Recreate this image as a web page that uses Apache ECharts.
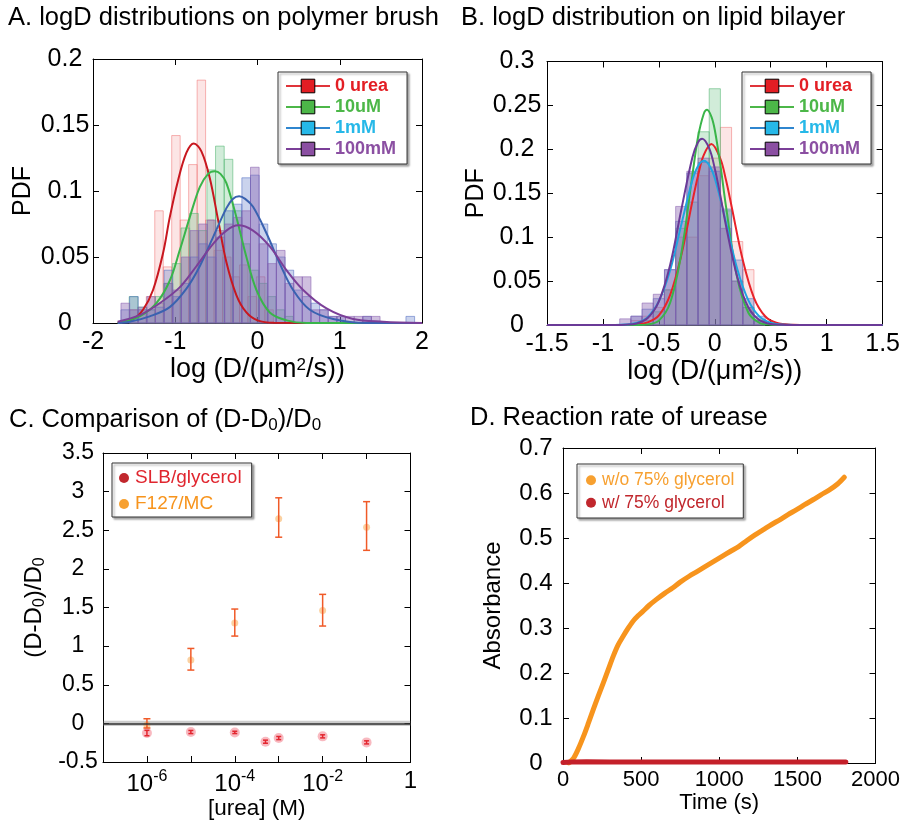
<!DOCTYPE html>
<html>
<head>
<meta charset="utf-8">
<script src="https://cdn.jsdelivr.net/npm/echarts@6/dist/echarts.min.js"></script>
<style>
html,body{margin:0;padding:0;background:#fff}
#chart{width:903px;height:825px}
</style>
</head>
<body>
<div id="chart"></div>
<script>
// ---------- Panel A: logD histograms on polymer brush ----------
// each histogram: first bin left edge, bin width, PDF heights
const histA_red_start = -1.558, histA_red_width = 0.103;
const histA_red = [0.01, 0.01, 0.02, 0.085, 0.0425, 0.142, 0.078, 0.120, 0.184, 0.078, 0.055, 0.05, 0.035, 0.044, 0.02, 0.035, 0.01];
const histA_green_start = -1.56, histA_green_width = 0.105;
const histA_green = [0.02, 0.012, 0.01, 0.02, 0.03, 0.045, 0.072, 0.083, 0.07, 0.116, 0.134, 0.124, 0.085, 0.06, 0.04, 0.03, 0.02, 0.01, 0.005];
const histA_blue_start = -1.66, histA_blue_width = 0.105;
const histA_blue = [0.01, 0.02, 0.01, 0.01, 0.012, 0.04, 0.02, 0.03, 0.05, 0.06, 0.05, 0.065, 0.085, 0.09, 0.11, 0.112, 0.075, 0.06, 0.05, 0.04, 0.025, 0.02, 0.015, 0.01, 0.005, 0.005, 0, 0, 0.005, 0, 0, 0, 0, 0.005];
const histA_purple_start = -1.66, histA_purple_width = 0.105;
const histA_purple = [0.015, 0.01, 0.012, 0.02, 0.015, 0.03, 0.025, 0.05, 0.07, 0.075, 0.078, 0.07, 0.075, 0.08, 0.085, 0.118, 0.06, 0.045, 0.055, 0.03, 0.035, 0.035, 0.01, 0.01, 0.005, 0.005, 0.005, 0.005, 0.005, 0.005];

// fitted curves, [logD, PDF]
const fitA_red = [[-1.7,0.0004],[-1.513,0.003],[-1.392,0.010],[-1.27,0.025],[-1.148,0.053],[-1.067,0.080],[-0.966,0.108],[-0.864,0.129],[-0.775,0.136],[-0.682,0.130],[-0.581,0.110],[-0.479,0.078],[-0.378,0.046],[-0.256,0.021],[-0.135,0.008],[0.0,0.002],[0.2,0.0002],[2,0]];
const fitA_green = [[-1.7,0],[-1.432,0.005],[-1.23,0.015],[-1.067,0.032],[-0.946,0.055],[-0.824,0.080],[-0.702,0.103],[-0.6,0.113],[-0.52,0.115],[-0.45,0.113],[-0.378,0.106],[-0.256,0.080],[-0.135,0.050],[-0.013,0.025],[0.149,0.008],[0.352,0.002],[0.595,0],[2,0]];
const fitA_blue = [[-1.7,0],[-1.554,0.001],[-1.311,0.005],[-1.067,0.012],[-0.864,0.026],[-0.702,0.043],[-0.54,0.065],[-0.378,0.087],[-0.3,0.094],[-0.224,0.096],[-0.15,0.094],[-0.054,0.088],[0.109,0.068],[0.271,0.045],[0.433,0.025],[0.636,0.010],[0.92,0.003],[1.324,0],[2,0]];
const fitA_purple = [[-1.7,0.001],[-1.432,0.006],[-1.189,0.015],[-0.946,0.027],[-0.743,0.043],[-0.54,0.060],[-0.378,0.070],[-0.236,0.074],[-0.054,0.070],[0.149,0.058],[0.352,0.040],[0.555,0.025],[0.839,0.011],[1.163,0.003],[1.527,0.001],[2,0]];

// ---------- Panel B: logD histograms on lipid bilayer ----------
const histB_width = 0.1;
const histB_red_start = -0.75;
const histB_red = [0.005, 0.01, 0.02, 0.04, 0.10, 0.10, 0.17, 0.19, 0.225, 0.095, 0.063, 0.006];
const histB_green_start = -0.65;
const histB_green = [0.005, 0.015, 0.04, 0.11, 0.14, 0.22, 0.269, 0.13, 0.05, 0.02, 0.005];
const histB_blue_start = -0.75;
const histB_blue = [0.01, 0.018, 0.03, 0.063, 0.118, 0.173, 0.185, 0.175, 0.132, 0.074, 0.03, 0.01];
const histB_purple_start = -0.85;
const histB_purple = [0.007, 0.01, 0.025, 0.035, 0.063, 0.135, 0.175, 0.19, 0.18, 0.11, 0.05, 0.02, 0.005];

const fitB_red = [[-1.5,0],[-0.8,0],[-0.7,0.0006],[-0.6,0.003],[-0.5,0.011],[-0.4,0.034],[-0.3,0.079],[-0.2,0.141],[-0.15,0.170],[-0.1,0.193],[-0.03,0.206],[0.05,0.189],[0.1,0.165],[0.15,0.135],[0.25,0.074],[0.35,0.031],[0.45,0.010],[0.55,0.0025],[0.7,0.0003],[0.85,0],[1.5,0]];
const fitB_green = [[-1.5,0],[-0.7,0],[-0.6,0.0007],[-0.5,0.005],[-0.4,0.025],[-0.3,0.081],[-0.2,0.171],[-0.15,0.214],[-0.1,0.240],[-0.069,0.245],[-0.03,0.237],[0,0.222],[0.05,0.182],[0.1,0.135],[0.2,0.054],[0.3,0.014],[0.4,0.0025],[0.5,0.0003],[0.6,0],[1.5,0]];
const fitB_blue = [[-1.5,0],[-0.9,0.0001],[-0.8,0.0005],[-0.7,0.0024],[-0.6,0.009],[-0.5,0.027],[-0.4,0.062],[-0.3,0.114],[-0.2,0.165],[-0.15,0.181],[-0.098,0.187],[-0.05,0.182],[0,0.167],[0.1,0.117],[0.2,0.064],[0.3,0.028],[0.4,0.0095],[0.5,0.0025],[0.6,0.0005],[0.7,0.0001],[0.8,0],[1.5,0]];
const fitB_purple = [[-1.5,0],[-0.9,0],[-0.8,0.0003],[-0.7,0.0018],[-0.6,0.008],[-0.5,0.027],[-0.4,0.068],[-0.3,0.131],[-0.2,0.191],[-0.15,0.208],[-0.113,0.212],[-0.05,0.201],[0,0.178],[0.05,0.147],[0.1,0.113],[0.2,0.055],[0.3,0.020],[0.4,0.0056],[0.5,0.0012],[0.6,0.0002],[0.7,0],[1.5,0]];

const legendNames = ['0 urea', '10uM', '1mM', '100mM'];

// ---------- Panel C: (D-D0)/D0 vs urea concentration ----------
const ureaF127 = [1e-6, 1e-5, 1e-4, 1e-3, 1e-2, 1e-1];
const relF127 = [-0.02, 0.82, 1.30, 2.65, 1.46, 2.54];
const relF127Lo = [-0.06, 0.69, 1.13, 2.41, 1.26, 2.24];
const relF127Hi = [0.06, 0.97, 1.48, 2.92, 1.67, 2.87];
const ureaSLB = [1e-6, 1e-5, 1e-4, 5e-4, 1e-3, 1e-2, 1e-1];
const relSLB = [-0.125, -0.112, -0.117, -0.237, -0.19, -0.168, -0.246];
const relSLBErr = [0.035, 0.02, 0.015, 0.02, 0.02, 0.02, 0.02];

// ---------- Panel D: urease reaction (absorbance vs time) ----------
const timeFree = [36, 68, 100, 131, 163, 194, 226, 258, 290, 321, 352, 384, 416, 448, 480, 511, 550, 596, 650, 701, 750, 807, 860, 912, 965, 1018, 1070, 1124, 1175, 1229, 1280, 1335, 1390, 1440, 1495, 1546, 1600, 1651, 1705, 1757, 1800];
const absFree = [0, 0.011, 0.033, 0.059, 0.089, 0.119, 0.149, 0.178, 0.208, 0.237, 0.262, 0.281, 0.299, 0.315, 0.327, 0.337, 0.350, 0.363, 0.377, 0.389, 0.402, 0.415, 0.426, 0.437, 0.448, 0.459, 0.470, 0.481, 0.494, 0.507, 0.518, 0.530, 0.541, 0.552, 0.563, 0.574, 0.585, 0.596, 0.607, 0.620, 0.635];
const timeGly = [0, 60, 150, 300, 500, 700, 900, 1100, 1300, 1500, 1700, 1810];
const absGly = [0.001, 0.002, 0.003, 0.002, 0.002, 0.002, 0.002, 0.002, 0.002, 0.002, 0.002, 0.002];

// ---------- styling ----------
const FONT = 'Liberation Sans, Arial, Helvetica, sans-serif';
const grids = [
  {left: 93, top: 59, width: 329, height: 264},
  {left: 547, top: 61.5, width: 336.5, height: 263.5},
  {left: 103, top: 453, width: 307.5, height: 309},
  {left: 563, top: 448, width: 315.5, height: 315}
];

function axisBase(extra) {
  return Object.assign({
    axisLine: {onZero: false, lineStyle: {color: '#000', width: 1}},
    axisTick: {inside: true, length: 6, lineStyle: {color: '#000'}},
    splitLine: {show: false},
    minorTick: {show: false}
  }, extra);
}
function tickLabel(size, extra) {
  return Object.assign({fontSize: size, fontFamily: FONT, color: '#000'}, extra);
}
function nameStyle(size) {
  return {fontSize: size, fontFamily: FONT, color: '#000',
    rich: {s: {fontSize: Math.round(size * 0.62), fontFamily: FONT, padding: [0, 0, 8, 0]},
           sub: {fontSize: 16, fontFamily: FONT, padding: [12, 0, 0, 0]}}};
}

const xAxes = [];
const yAxes = [];
function addAxes(gi, xo, yo, cfg) {
  xAxes.push(axisBase(Object.assign({gridIndex: gi, position: 'bottom',
    name: cfg.xName, nameLocation: 'middle', nameGap: cfg.xGap, nameTextStyle: nameStyle(cfg.xNameSize),
    axisLabel: tickLabel(cfg.xTickSize, Object.assign({margin: 7}, cfg.xLabel || {}))}, xo)));
  xAxes.push(axisBase(Object.assign({gridIndex: gi, position: 'top', axisLabel: {show: false}}, xo)));
  yAxes.push(axisBase(Object.assign({gridIndex: gi, position: 'left',
    name: cfg.yName, nameLocation: 'middle', nameGap: cfg.yGap, nameTextStyle: nameStyle(cfg.yNameSize),
    axisLabel: tickLabel(cfg.yTickSize, {align: 'center', margin: cfg.yMargin})}, yo)));
  yAxes.push(axisBase(Object.assign({gridIndex: gi, position: 'right', axisLabel: {show: false}}, yo)));
}
addAxes(0, {type: 'value', min: -2, max: 2, interval: 1}, {type: 'value', min: 0, max: 0.2, interval: 0.05},
  {xName: 'log (D/(μm{s|2}/s))', xGap: 31, xNameSize: 27, xTickSize: 25,
   yName: 'PDF', yGap: 57, yNameSize: 25, yTickSize: 25, yMargin: 28});
addAxes(1, {type: 'value', min: -1.5, max: 1.5, interval: 0.5}, {type: 'value', min: 0, max: 0.3, interval: 0.05},
  {xName: 'log (D/(μm{s|2}/s))', xGap: 31, xNameSize: 27, xTickSize: 25,
   yName: 'PDF', yGap: 48, yNameSize: 25, yTickSize: 25, yMargin: 30});
addAxes(2, {type: 'log', logBase: 10, min: 1e-7, max: 1, splitNumber: 7}, {type: 'value', min: -0.5, max: 3.5, interval: 0.5},
  {xName: '[urea] (M)', xGap: 28, xNameSize: 22.5, xTickSize: 24,
   xLabel: {formatter: function (v) {
     const e = Math.round(Math.log10(v));
     if (e === 0) return '1';
     if (e % 2 !== 0) return '';
     return '10{sup|' + e + '}';
   }, rich: {sup: {fontSize: 16, fontFamily: FONT, padding: [0, 0, 14, 0]}}},
   yName: '(D-D{sub|0})/D{sub|0}', yGap: 55, yNameSize: 24, yTickSize: 23, yMargin: 25});
addAxes(3, {type: 'value', min: 0, max: 2000, interval: 500}, {type: 'value', min: 0, max: 0.7, interval: 0.1},
  {xName: 'Time (s)', xGap: 29, xNameSize: 22, xTickSize: 22,
   xLabel: {margin: 6, formatter: function (v) { return String(v); }},
   yName: 'Absorbance', yGap: 58, yNameSize: 24, yTickSize: 24, yMargin: 27});

// histogram bins as rectangles on the value axes
function histSeries(name, ax, start, width, heights, fill, stroke) {
  const data = [];
  heights.forEach(function (h, i) {
    if (h > 0) data.push([start + i * width, start + (i + 1) * width, h]);
  });
  return {
    type: 'custom', name: name, xAxisIndex: ax, yAxisIndex: ax, data: data, silent: true, z: 1,
    encode: {x: [0, 1], y: 2},
    renderItem: function (params, api) {
      const a = api.coord([api.value(0), api.value(2)]);
      const b = api.coord([api.value(1), 0]);
      return {type: 'rect', shape: {x: a[0], y: a[1], width: b[0] - a[0], height: b[1] - a[1]},
        style: {fill: fill, stroke: stroke, lineWidth: 1}};
    }
  };
}
function fitSeries(name, ax, data, color) {
  return {type: 'line', name: name, xAxisIndex: ax, yAxisIndex: ax, data: data,
    smooth: 0.35, symbol: 'rect', showSymbol: false, silent: true, z: 3,
    lineStyle: {color: color, width: 2}, itemStyle: {color: color}};
}
function errSeries(name, xs, lo, hi, color, cap) {
  return {
    type: 'custom', name: name, xAxisIndex: 4, yAxisIndex: 4, silent: true, z: 4,
    data: xs.map(function (x, i) { return [x, lo[i], hi[i]]; }),
    encode: {x: 0, y: [1, 2]},
    renderItem: function (params, api) {
      const t = api.coord([api.value(0), api.value(2)]);
      const b = api.coord([api.value(0), api.value(1)]);
      const st = {stroke: color, lineWidth: 1.5};
      return {type: 'group', children: [
        {type: 'line', shape: {x1: t[0], y1: t[1], x2: b[0], y2: b[1]}, style: st},
        {type: 'line', shape: {x1: t[0] - cap, y1: t[1], x2: t[0] + cap, y2: t[1]}, style: st},
        {type: 'line', shape: {x1: b[0] - cap, y1: b[1], x2: b[0] + cap, y2: b[1]}, style: st}
      ]};
    }
  };
}

const histFill = {
  red: ['rgba(240,110,110,0.18)', 'rgba(240,120,120,0.55)'],
  green: ['rgba(90,185,120,0.28)', 'rgba(90,185,120,0.6)'],
  blue: ['rgba(80,110,195,0.30)', 'rgba(80,110,195,0.55)'],
  purple: ['rgba(135,95,175,0.40)', 'rgba(135,95,175,0.55)']
};

const series = [
  histSeries('hA0', 0, histA_red_start, histA_red_width, histA_red, histFill.red[0], histFill.red[1]),
  histSeries('hA1', 0, histA_green_start, histA_green_width, histA_green, histFill.green[0], histFill.green[1]),
  histSeries('hA2', 0, histA_blue_start, histA_blue_width, histA_blue, histFill.blue[0], histFill.blue[1]),
  histSeries('hA3', 0, histA_purple_start, histA_purple_width, histA_purple, histFill.purple[0], histFill.purple[1]),
  fitSeries(legendNames[0], 0, fitA_red, '#c8171f'),
  fitSeries(legendNames[1], 0, fitA_green, '#39b54a'),
  fitSeries(legendNames[2], 0, fitA_blue, '#3a62b0'),
  fitSeries(legendNames[3], 0, fitA_purple, '#7b3f98'),

  histSeries('hB0', 2, histB_red_start, histB_width, histB_red, histFill.red[0], histFill.red[1]),
  histSeries('hB1', 2, histB_green_start, histB_width, histB_green, histFill.green[0], histFill.green[1]),
  histSeries('hB2', 2, histB_blue_start, histB_width, histB_blue, histFill.blue[0], histFill.blue[1]),
  histSeries('hB3', 2, histB_purple_start, histB_width, histB_purple, histFill.purple[0], histFill.purple[1]),
  fitSeries(legendNames[0], 2, fitB_red, '#e8232a'),
  fitSeries(legendNames[1], 2, fitB_green, '#3ab54a'),
  fitSeries(legendNames[2], 2, fitB_blue, '#1fa5e0'),
  fitSeries(legendNames[3], 2, fitB_purple, '#6a3a97'),

  {
    type: 'scatter', name: 'SLB/glycerol', xAxisIndex: 4, yAxisIndex: 4, z: 3,
    data: ureaSLB.map(function (x, i) { return [x, relSLB[i]]; }),
    symbol: 'circle', symbolSize: 10, itemStyle: {color: 'rgba(236,60,80,0.45)'},
    markArea: {silent: true, itemStyle: {color: 'rgba(110,110,110,0.35)'},
      data: [[{yAxis: -0.035}, {yAxis: 0.035}]]},
    markLine: {silent: true, symbol: 'none', label: {show: false},
      lineStyle: {color: '#333', width: 1.5, type: 'solid'}, data: [{yAxis: 0}]}
  },
  errSeries('eSLB', ureaSLB,
    relSLB.map(function (v, i) { return v - relSLBErr[i]; }),
    relSLB.map(function (v, i) { return v + relSLBErr[i]; }), '#e3262f', 2.5),
  {
    type: 'scatter', name: 'F127/MC', xAxisIndex: 4, yAxisIndex: 4, z: 3,
    data: ureaF127.map(function (x, i) { return [x, relF127[i]]; }),
    symbol: 'circle', symbolSize: 7, itemStyle: {color: 'rgba(247,150,40,0.55)'}
  },
  errSeries('eF127', ureaF127, relF127Lo, relF127Hi, '#f05a28', 3.5),

  {
    type: 'line', name: 'w/o 75% glycerol', xAxisIndex: 6, yAxisIndex: 6,
    data: timeFree.map(function (t, i) { return [t, absFree[i]]; }),
    smooth: 0.3, showSymbol: false, silent: true,
    lineStyle: {color: '#f7941d', width: 5, cap: 'round', join: 'round'}, itemStyle: {color: '#f7941d'}
  },
  {
    type: 'line', name: 'w/ 75% glycerol', xAxisIndex: 6, yAxisIndex: 6,
    data: timeGly.map(function (t, i) { return [t, absGly[i]]; }),
    showSymbol: false, silent: true,
    lineStyle: {color: '#c4202a', width: 5, cap: 'round', join: 'round'}, itemStyle: {color: '#c4202a'}
  }
];

const legendItemColors = ['#e31e24', '#4cb748', '#26b8e8', '#8b4fa2'];
const legendLineColors = ['#e0343a', '#4cb748', '#2f86cf', '#7b3f98'];
function curveLegend(left, top) {
  return {
    orient: 'vertical', left: left, top: top, selectedMode: false,
    itemWidth: 44, itemHeight: 17, itemGap: 3,
    padding: [5, 11, 6, 7],
    backgroundColor: '#fff', borderColor: '#333', borderWidth: 1,
    shadowColor: 'rgba(0,0,0,0.35)', shadowBlur: 2, shadowOffsetX: 2, shadowOffsetY: 2,
    textStyle: {fontSize: 18, fontWeight: 'bold', fontFamily: FONT, lineHeight: 18},
    data: legendNames.map(function (n, i) {
      return {name: n,
        itemStyle: {color: legendItemColors[i], borderColor: '#000', borderWidth: 1},
        lineStyle: {color: legendLineColors[i], width: 2},
        textStyle: {color: legendItemColors[i], fontWeight: 'bold'}};
    })
  };
}
function dotLegend(left, top, names, iconColors, textColors, fontSize, gap, pad) {
  return {
    orient: 'vertical', left: left, top: top, selectedMode: false,
    itemWidth: 12, itemHeight: 10, itemGap: gap, padding: pad,
    backgroundColor: '#fff', borderColor: '#333', borderWidth: 1,
    shadowColor: 'rgba(0,0,0,0.35)', shadowBlur: 2, shadowOffsetX: 2, shadowOffsetY: 2,
    textStyle: {fontSize: fontSize, fontFamily: FONT, lineHeight: fontSize + 1},
    data: names.map(function (n, i) {
      return {name: n, icon: 'circle', itemStyle: {color: iconColors[i], opacity: 1},
        textStyle: {color: textColors[i]}};
    })
  };
}

const titleStyle = {fontSize: 25.5, fontWeight: 'normal', fontFamily: FONT, color: '#000',
  rich: {sub: {fontSize: 17, fontFamily: FONT, padding: [12, 0, 0, 0]}}};

const option = {
  animation: false,
  backgroundColor: '#fff',
  title: [
    {text: 'A. logD distributions on polymer brush', left: 8, top: 5, padding: 0, textStyle: titleStyle},
    {text: 'B. logD distribution on lipid bilayer', left: 461, top: 5, padding: 0, textStyle: titleStyle},
    {text: 'C. Comparison of (D-D{sub|0})/D{sub|0}', left: 9, top: 405, padding: 0, textStyle: titleStyle},
    {text: 'D. Reaction rate of urease', left: 470, top: 405, padding: 0, textStyle: titleStyle}
  ],
  grid: grids,
  xAxis: xAxes,
  yAxis: yAxes,
  legend: [
    curveLegend(278, 72),
    curveLegend(742, 72),
    dotLegend(112, 463, ['SLB/glycerol', 'F127/MC'], ['#c1272d', '#f7a030'], ['#e0262f', '#f7941d'], 19, 6, [5, 10, 3, 7]),
    dotLegend(577, 464, ['w/o 75% glycerol', 'w/ 75% glycerol'], ['#f7a030', '#c1272d'], ['#f7a030', '#c1272d'], 17.5, 4, [7, 9, 6, 9])
  ],
  series: series
};

const chart = echarts.init(document.getElementById('chart'), null, {renderer: 'canvas'});
chart.setOption(option);
</script>
</body>
</html>
